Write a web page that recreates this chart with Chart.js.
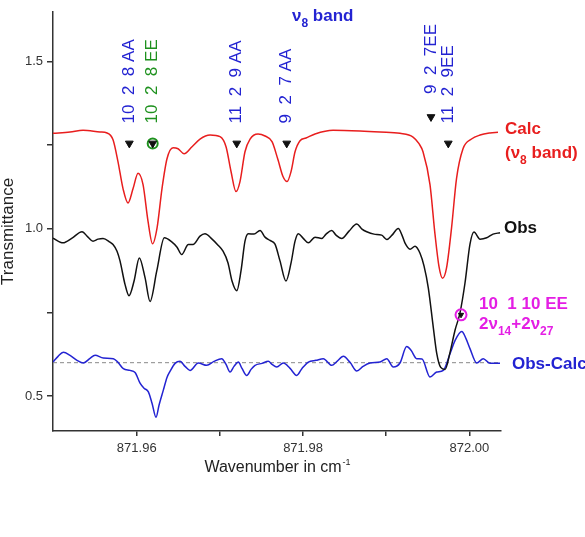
<!DOCTYPE html>
<html><head><meta charset="utf-8">
<script src="https://cdn.jsdelivr.net/npm/chart.js@4.4.1/dist/chart.umd.min.js"></script>
<style>html,body{margin:0;padding:0;background:#fff;}#wrap{width:585px;height:537px;position:relative;}</style>
</head><body><div id="wrap"><canvas id="c" width="585" height="537"></canvas></div>
<script>
const FONT = '"Liberation Sans", Arial, Helvetica, sans-serif';

const xTickValues = [871.96, 871.97, 871.98, 871.99, 872.00];
const xTickLabels = ['871.96', '', '871.98', '', '872.00'];
const yTickValues = [0.5, 0.75, 1.0, 1.25, 1.5];
const yTickLabels = ['0.5', '', '1.0', '', '1.5'];

// Calc (nu8 band)
const calcX = [871.94993,871.95198,871.95354,871.95559,871.95643,871.95715,871.95775,871.95835,871.95895,871.95956,871.96016,871.96076,871.96136,871.96190,871.96244,871.96304,871.96364,871.96437,871.96497,871.96569,871.96665,871.96761,871.96882,871.97002,871.97074,871.97134,871.97194,871.97242,871.97302,871.97363,871.97459,871.97543,871.97627,871.97699,871.97759,871.97808,871.97856,871.97904,871.97964,871.98036,871.98144,871.98361,871.98685,871.98926,871.99166,871.99323,871.99395,871.99443,871.99527,871.99587,871.99636,871.99678,871.99726,871.99786,871.99846,871.99924,872.00026,872.00129,872.00249,872.00345];
const calcY = [1.285,1.289,1.294,1.289,1.286,1.266,1.200,1.120,1.077,1.120,1.166,1.132,1.022,0.955,1.002,1.120,1.209,1.242,1.239,1.224,1.245,1.268,1.280,1.275,1.245,1.171,1.111,1.141,1.230,1.268,1.283,1.277,1.260,1.206,1.156,1.141,1.171,1.230,1.263,1.271,1.283,1.294,1.292,1.289,1.285,1.274,1.254,1.230,1.132,0.984,0.886,0.852,0.883,1.002,1.150,1.239,1.268,1.280,1.286,1.288];

// Obs
const obsX = [871.94993,871.95114,871.95222,871.95342,871.95414,871.95474,871.95535,871.95595,871.95679,871.95715,871.95763,871.95799,871.95859,871.95907,871.95968,871.96031,871.96100,871.96160,871.96241,871.96332,871.96421,871.96485,871.96541,871.96621,871.96677,871.96761,871.96821,871.96906,871.96978,871.97038,871.97098,871.97146,871.97203,871.97254,871.97302,871.97342,871.97411,871.97483,871.97543,871.97603,871.97663,871.97723,871.97795,871.97856,871.97904,871.97943,871.98000,871.98064,871.98144,871.98225,871.98277,871.98345,871.98397,871.98465,871.98553,871.98646,871.98709,871.98766,871.98854,871.98946,871.99007,871.99070,871.99146,871.99190,871.99227,871.99287,871.99347,871.99407,871.99455,871.99507,871.99567,871.99608,871.99656,871.99708,871.99768,871.99828,871.99888,871.99948,872.00008,872.00056,872.00129,872.00209,872.00285,872.00369];
const obsY = [0.972,0.958,0.972,0.991,0.975,0.963,0.969,0.971,0.960,0.953,0.933,0.904,0.834,0.800,0.844,0.913,0.854,0.783,0.874,0.973,0.961,0.945,0.923,0.953,0.953,0.978,0.985,0.969,0.951,0.933,0.898,0.844,0.815,0.874,0.963,0.985,0.984,0.995,0.975,0.965,0.954,0.904,0.844,0.898,0.963,0.985,0.972,0.958,0.975,0.971,0.984,0.995,0.981,0.971,0.993,1.014,0.999,0.991,0.984,0.981,0.968,0.981,1.001,0.981,0.957,0.939,0.948,0.927,0.889,0.823,0.705,0.628,0.586,0.580,0.631,0.697,0.749,0.838,0.954,0.990,0.969,0.973,0.984,0.988];

// Obs-Calc (offset)
const diffX = [871.94993,871.95054,871.95117,871.95198,871.95282,871.95358,871.95438,871.95499,871.95598,871.95719,871.95775,871.95839,871.95919,871.95980,871.96040,871.96088,871.96140,871.96184,871.96232,871.96268,871.96320,871.96364,871.96400,871.96461,871.96521,871.96581,871.96641,871.96741,871.96842,871.96930,871.97022,871.97074,871.97122,871.97170,871.97222,871.97266,871.97323,871.97375,871.97423,871.97507,871.97583,871.97627,871.97684,871.97763,871.97844,871.97924,871.97988,871.98064,871.98156,871.98244,871.98345,871.98409,871.98485,871.98565,871.98646,871.98722,871.98806,871.98926,871.99007,871.99086,871.99166,871.99247,871.99299,871.99367,871.99431,871.99527,871.99608,871.99687,871.99768,871.99828,871.99909,871.99960,872.00008,872.00089,872.00168,872.00249,872.00369];
const diffY = [0.602,0.619,0.631,0.622,0.607,0.599,0.613,0.622,0.614,0.612,0.601,0.582,0.577,0.571,0.539,0.524,0.513,0.479,0.437,0.473,0.518,0.556,0.574,0.598,0.604,0.589,0.577,0.599,0.592,0.604,0.612,0.595,0.572,0.589,0.602,0.583,0.562,0.580,0.592,0.598,0.604,0.595,0.587,0.599,0.583,0.562,0.583,0.602,0.607,0.612,0.592,0.604,0.619,0.601,0.575,0.589,0.599,0.602,0.612,0.587,0.599,0.648,0.637,0.612,0.611,0.557,0.572,0.577,0.627,0.666,0.693,0.672,0.642,0.599,0.612,0.598,0.598];

const zeroLevel = 0.6;

// assigned lines (triangles)
const peakLabels = ['10  2  8 AA', '10  2  8 EE', '11  2  9 AA', '9  2  7 AA', '9  2  7EE', '11  2  9EE'];
const peakX = [871.95911, 871.96192, 871.97203, 871.97804, 871.99539, 871.99747];
const peakY = [1.255, 1.255, 1.255, 1.255, 1.334, 1.255];
const hotX = [871.99900];
const hotY = [0.743];

const RED = 'rgb(232,30,30)', BLUE = 'rgb(35,35,210)', GREEN = 'rgb(30,145,30)', MAG = 'rgb(228,30,228)', BLK = '#111';
const peakColors = [BLUE, GREEN, BLUE, BLUE, BLUE, BLUE];
const peakGap = [20, 20, 20, 20, 23, 20];

const pts = (xs, ys) => xs.map((x, i) => ({x, y: ys[i]}));
const X_MIN = 871.94993, X_MAX = 872.00381, Y_MIN = 0.396, Y_MAX = 1.648;

function rich(ctx, parts, x, y, color, size) {
  ctx.save(); ctx.fillStyle = color; ctx.textBaseline = 'alphabetic'; ctx.textAlign = 'left';
  let cx = x;
  for (const p of parts) {
    const fs = p.s ? Math.round(size * 0.68) : size;
    ctx.font = `bold ${fs}px ${FONT}`;
    ctx.fillText(p.t, cx, y + (p.s ? Math.round(size * 0.35) : 0));
    cx += ctx.measureText(p.t).width;
  }
  ctx.restore();
}

const overlay = {
  id: 'overlay',
  afterDraw(chart) {
    const ctx = chart.ctx, xs = chart.scales.x, ys = chart.scales.y, ca = chart.chartArea;
    peakLabels.forEach((t, i) => {
      const px = xs.getPixelForValue(peakX[i]);
      const py = ys.getPixelForValue(peakY[i]) - peakGap[i];
      ctx.save(); ctx.translate(px, py); ctx.rotate(-Math.PI / 2);
      ctx.font = `17px ${FONT}`; ctx.fillStyle = peakColors[i];
      ctx.textAlign = 'left'; ctx.textBaseline = 'middle';
      ctx.fillText(t, 0, 0); ctx.restore();
    });
    const R = ca.right;
    rich(ctx, [{t: 'ν'}, {t: '8', s: 1}, {t: ' band'}], 292, 21, BLUE, 17);
    rich(ctx, [{t: 'Calc'}], R + 4, 134, RED, 17);
    rich(ctx, [{t: '(ν'}, {t: '8', s: 1}, {t: ' band)'}], R + 4, 158, RED, 17);
    rich(ctx, [{t: 'Obs'}], R + 3, 233, BLK, 17);
    rich(ctx, [{t: '10  1 10 EE'}], R - 22, 309, MAG, 17);
    rich(ctx, [{t: '2ν'}, {t: '14', s: 1}, {t: '+2ν'}, {t: '27', s: 1}], R - 22, 329, MAG, 17);
    rich(ctx, [{t: 'Obs-Calc'}], R + 11, 369, BLUE, 17);
    // axis titles
    ctx.save();
    ctx.fillStyle = '#222';
    ctx.font = `17px ${FONT}`;
    ctx.translate(13, (ca.top + ca.bottom) / 2 + 10); ctx.rotate(-Math.PI / 2);
    ctx.textAlign = 'center'; ctx.textBaseline = 'alphabetic';
    ctx.fillText('Transmittance', 0, 0);
    ctx.restore();
    ctx.save();
    ctx.fillStyle = '#222';
    ctx.font = `16px ${FONT}`;
    const main = 'Wavenumber in cm';
    const w1 = ctx.measureText(main).width;
    ctx.font = `9px ${FONT}`;
    const w2 = ctx.measureText('-1').width;
    const cxm = (ca.left + ca.right) / 2;
    const sx = cxm - (w1 + w2) / 2;
    ctx.font = `16px ${FONT}`; ctx.textAlign = 'left';
    ctx.fillText(main, sx, 472);
    ctx.font = `9px ${FONT}`;
    ctx.fillText('-1', sx + w1 + 1, 465);
    ctx.restore();
  }
};

new Chart(document.getElementById('c'), {
  type: 'line',
  data: {
    datasets: [
      {data: pts(peakX, peakY), showLine: false, pointStyle: 'triangle', rotation: 180, pointRadius: 4.5,
       pointBackgroundColor: BLK, pointBorderColor: BLK, pointBorderWidth: 1, order: 0},
      {data: pts(hotX, hotY), showLine: false, pointStyle: 'triangle', rotation: 180, pointRadius: 3,
       pointBackgroundColor: BLK, pointBorderColor: BLK, pointBorderWidth: 1, order: 0},
      {data: pts([peakX[1]], [peakY[1]]), showLine: false, pointStyle: 'circle', pointRadius: 5,
       pointBackgroundColor: 'rgba(0,0,0,0)', pointBorderColor: GREEN, pointBorderWidth: 2, order: 0},
      {data: pts(hotX, hotY), showLine: false, pointStyle: 'circle', pointRadius: 5.5,
       pointBackgroundColor: 'rgba(0,0,0,0)', pointBorderColor: MAG, pointBorderWidth: 2, order: 0},
      {data: pts(calcX, calcY), borderColor: RED, borderWidth: 1.5, pointRadius: 0, cubicInterpolationMode: 'monotone', order: 2},
      {data: pts(obsX, obsY), borderColor: BLK, borderWidth: 1.5, pointRadius: 0, cubicInterpolationMode: 'monotone', order: 3},
      {data: pts(diffX, diffY), borderColor: BLUE, borderWidth: 1.5, pointRadius: 0, cubicInterpolationMode: 'monotone', order: 4},
      {data: [{x: X_MIN, y: zeroLevel}, {x: X_MAX, y: zeroLevel}], borderColor: '#888', borderWidth: 1, borderDash: [4, 3], pointRadius: 0, order: 5}
    ]
  },
  options: {
    responsive: false, animation: false, devicePixelRatio: 1,
    layout: {padding: {top: 9, right: 84, left: 0, bottom: 0}},
    plugins: {legend: {display: false}, tooltip: {enabled: false}},
    scales: {
      x: {
        type: 'linear', min: X_MIN, max: X_MAX,
        afterBuildTicks: s => { s.ticks = xTickValues.map(v => ({value: v})); },
        afterFit: s => { s.height = 106; },
        ticks: {autoSkip: false, maxRotation: 0, padding: 5, color: '#333', font: {family: FONT, size: 13},
                callback: (v, i) => xTickLabels[i]},
        grid: {display: true, drawOnChartArea: false, drawTicks: true, tickLength: 5, color: '#333', lineWidth: 1.5},
        border: {display: true, color: '#333', width: 1.5}
      },
      y: {
        type: 'linear', min: Y_MIN, max: Y_MAX,
        afterBuildTicks: s => { s.ticks = yTickValues.map(v => ({value: v})); },
        afterFit: s => { s.width = 53; },
        ticks: {autoSkip: false, padding: 4, color: '#333', font: {family: FONT, size: 13},
                callback: (v, i) => yTickLabels[i]},
        grid: {display: true, drawOnChartArea: false, drawTicks: true, tickLength: 6, color: '#333', lineWidth: 1.5},
        border: {display: true, color: '#333', width: 1.5}
      }
    }
  },
  plugins: [overlay]
});
</script></body></html>
